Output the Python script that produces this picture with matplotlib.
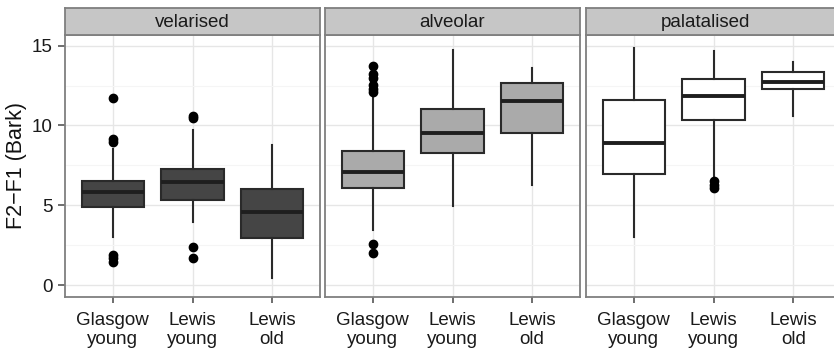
import matplotlib
matplotlib.use("Agg")
from matplotlib import pyplot as plt

plt.rcParams['font.family'] = ['Liberation Sans', 'DejaVu Sans']

facets = ["velarised", "alveolar", "palatalised"]
groups = ["Glasgow\nyoung", "Lewis\nyoung", "Lewis\nold"]
fills = ["#454545", "#aaaaaa", "#ffffff"]

# box stats: q1, median, q3, lower whisker, upper whisker
q1 = [[4.92, 5.32, 2.95], [6.08, 8.25, 9.5], [6.93, 10.37, 12.26]]
med = [[5.8, 6.45, 4.58], [7.1, 9.55, 11.55], [8.93, 11.86, 12.7]]
q3 = [[6.55, 7.25, 6.04], [8.42, 11.06, 12.65], [11.6, 12.9, 13.38]]
wlo = [[3.0, 3.92, 0.47], [3.47, 4.98, 6.25], [3.04, 6.65, 10.6]]
whi = [[8.5, 9.7, 8.75], [11.9, 14.75, 13.63], [14.83, 14.68, 13.95]]
outliers = [
    [[11.75, 9.18, 8.97, 1.88, 1.67, 1.47], [10.6, 10.45, 2.4, 1.68], []],
    [[13.75, 13.22, 12.98, 12.54, 12.3, 12.12, 2.55, 2.0], [], []],
    [[], [6.5, 6.3, 6.05], []],
]

W, H = 834, 349
fig = plt.figure(figsize=(W / 100, H / 100), dpi=100)
panel_left = [65, 325, 586]
panel_w = 255
top, strip_h, bottom = 8, 27, 297

for k, name in enumerate(facets):
    ax = fig.add_axes([panel_left[k] / W, 1 - bottom / H, panel_w / W, (bottom - top - strip_h) / H])
    stats = []
    for i in range(3):
        stats.append(dict(q1=q1[k][i], med=med[k][i], q3=q3[k][i],
                          whislo=wlo[k][i], whishi=whi[k][i], fliers=outliers[k][i]))
    ax.bxp(stats, positions=[1, 2, 3], widths=0.78, patch_artist=True, showcaps=False,
           boxprops=dict(facecolor=fills[k], edgecolor="#2a2a2a", linewidth=1.5),
           medianprops=dict(color="#1e1e1e", linewidth=2.8, solid_capstyle="butt"),
           whiskerprops=dict(color="#2a2a2a", linewidth=1.5),
           flierprops=dict(marker="o", markerfacecolor="black", markeredgecolor="black", markersize=6),
           zorder=3)
    ax.set_xlim(0.4, 3.6)
    ax.set_ylim(-0.75, 15.67)
    ax.set_yticks([0, 5, 10, 15])
    ax.set_yticks([2.5, 7.5, 12.5], minor=True)
    ax.set_xticks([1, 2, 3])
    ax.set_xticklabels(groups, fontsize=13.5, color="#1a1a1a", linespacing=1.1)
    ax.grid(True, which="major", color="#e6e6e6", linewidth=1.0, zorder=0)
    ax.grid(True, which="minor", axis="y", color="#f5f5f5", linewidth=0.8, zorder=0)
    ax.set_axisbelow(True)
    ax.tick_params(axis="x", which="major", length=4, width=1.2, color="#555555", pad=7)
    ax.tick_params(axis="y", which="major", length=5, width=1.2, color="#555555", pad=4)
    ax.tick_params(axis="both", which="minor", length=0)
    for s in ax.spines.values():
        s.set_color("#7f7f7f")
        s.set_linewidth(1.3)
    if k == 0:
        ax.set_yticklabels(["0", "5", "10", "15"], fontsize=13.5, color="#1a1a1a")
        ax.set_ylabel("F2\u2212F1 (Bark)", fontsize=15.5, color="#111111", labelpad=3)
    else:
        ax.tick_params(axis="y", which="major", length=0, labelleft=False)
    # strip
    sax = fig.add_axes([panel_left[k] / W, 1 - (top + strip_h) / H, panel_w / W, strip_h / H])
    sax.set_facecolor("#c6c6c6")
    sax.set_xticks([])
    sax.set_yticks([])
    for s in sax.spines.values():
        s.set_color("#7f7f7f")
        s.set_linewidth(1.3)
    sax.text(0.5 if k < 2 else 0.47, 0.48, name, ha="center", va="center", fontsize=13.5,
             color="#1a1a1a", transform=sax.transAxes)

fig.savefig("out.png", dpi=100)
